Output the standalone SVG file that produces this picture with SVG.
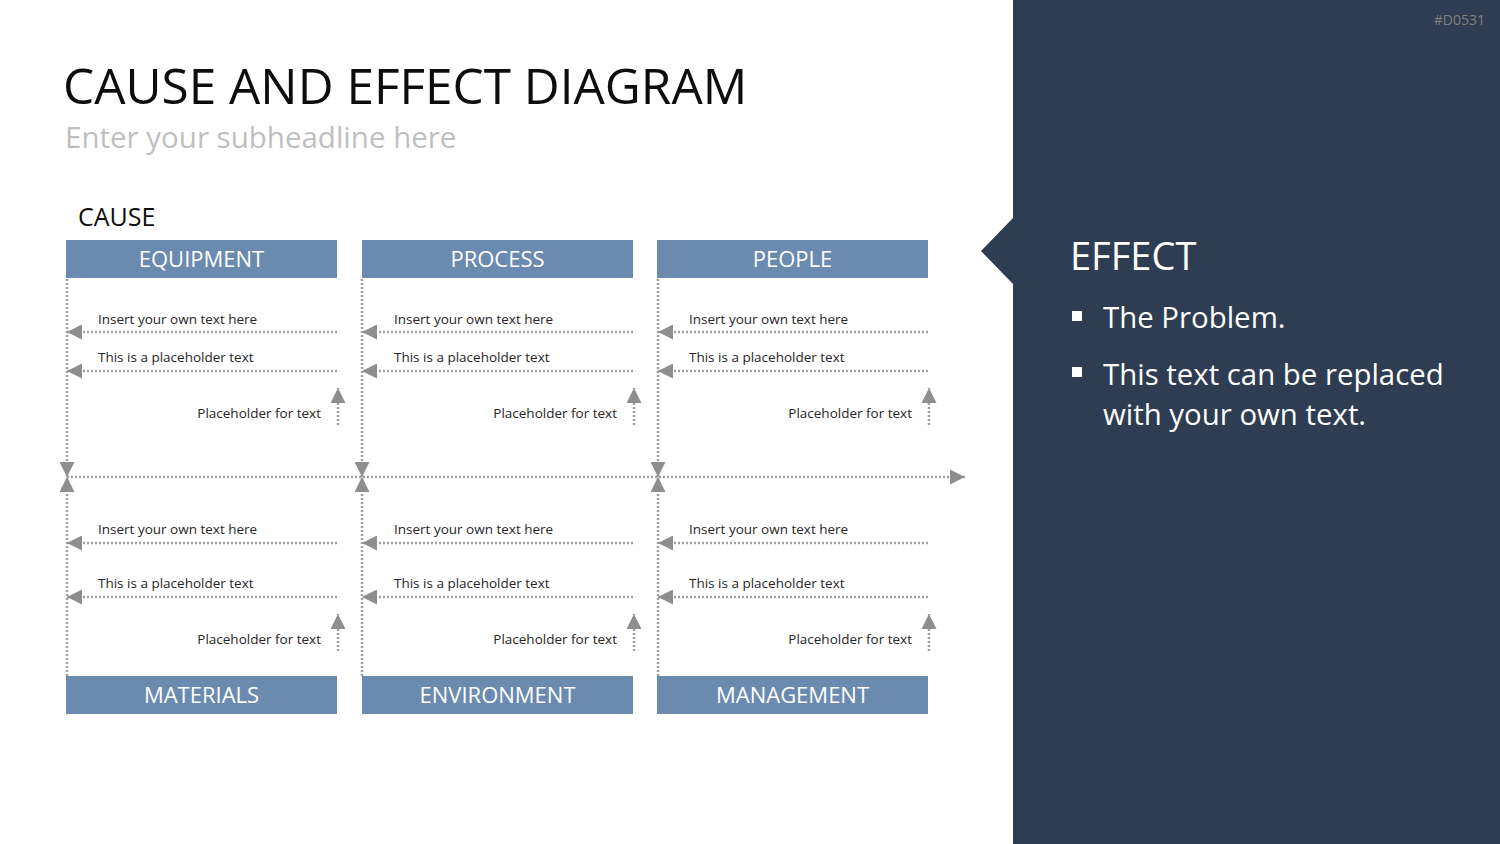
<svg xmlns="http://www.w3.org/2000/svg" width="1500" height="844" viewBox="0 0 1500 844">
<style>
.t{font-family:"Open Sans","Liberation Sans",sans-serif}
.title{font-size:49.5px;fill:#0D0D0D}
.sub{font-size:29.5px;fill:#BFBFBF}
.cause{font-size:25px;fill:#0D0D0D}
.hdr{font-size:22px;fill:#FFFFFF;text-anchor:middle}
.body{font-size:13.5px;fill:#262626}
.end{text-anchor:end}
.box{fill:#6A8BAF}
.dl{stroke:#A0A0A0;stroke-width:2.5;stroke-dasharray:2 2;fill:none}
.ar{marker-end:url(#tri)}
.eff{font-size:38px;fill:#FFFFFF}
.bul{font-size:29.4px;fill:#FFFFFF}
</style>
<defs>
<marker id="tri" viewBox="0 0 15 15" refX="15" refY="7.5" markerWidth="15" markerHeight="15" markerUnits="userSpaceOnUse" orient="auto">
<path d="M0,0 L15,7.5 L0,15 Z" fill="#8E8E8E"/>
</marker>
</defs>
<rect width="1500" height="844" fill="#FFFFFF"/>
<g id="effect-panel">
<path d="M1013,0 H1500 V844 H1013 V284 L981,251 L1013,218 Z" fill="#2E3D51"/>
<text class="t" x="1485" y="25" font-size="14" fill="#7F7F7F" text-anchor="end">#D0531</text>
<text class="t eff" x="1070" y="270">EFFECT</text>
<rect x="1072" y="311" width="10" height="10" fill="#FFFFFF"/>
<text class="t bul" x="1103" y="328">The Problem.</text>
<rect x="1072" y="367" width="10" height="10" fill="#FFFFFF"/>
<text class="t bul" x="1103" y="385">This text can be replaced</text>
<text class="t bul" x="1103" y="425">with your own text.</text>
</g>
<g id="titles">
<text class="t title" x="63" y="104">CAUSE AND EFFECT DIAGRAM</text>
<text class="t sub" x="65" y="148">Enter your subheadline here</text>
<text class="t cause" x="78" y="226">CAUSE</text>
</g>
<g id="connectors">
<line class="dl ar" x1="67" y1="279" x2="67" y2="477"/>
<line class="dl ar" x1="362" y1="279" x2="362" y2="477"/>
<line class="dl ar" x1="658" y1="279" x2="658" y2="477"/>
<line class="dl ar" x1="67" y1="676" x2="67" y2="477"/>
<line class="dl ar" x1="362" y1="676" x2="362" y2="477"/>
<line class="dl ar" x1="658" y1="676" x2="658" y2="477"/>
<line class="dl ar" x1="67" y1="477" x2="965" y2="477"/>
<line class="dl ar" x1="337" y1="332" x2="67" y2="332"/>
<line class="dl ar" x1="337" y1="371" x2="67" y2="371"/>
<line class="dl ar" x1="338" y1="425" x2="338" y2="388"/>
<line class="dl ar" x1="633" y1="332" x2="362" y2="332"/>
<line class="dl ar" x1="633" y1="371" x2="362" y2="371"/>
<line class="dl ar" x1="634" y1="425" x2="634" y2="388"/>
<line class="dl ar" x1="928" y1="332" x2="658" y2="332"/>
<line class="dl ar" x1="928" y1="371" x2="658" y2="371"/>
<line class="dl ar" x1="929" y1="425" x2="929" y2="388"/>
<line class="dl ar" x1="337" y1="543" x2="67" y2="543"/>
<line class="dl ar" x1="337" y1="597" x2="67" y2="597"/>
<line class="dl ar" x1="338" y1="651" x2="338" y2="614"/>
<line class="dl ar" x1="633" y1="543" x2="362" y2="543"/>
<line class="dl ar" x1="633" y1="597" x2="362" y2="597"/>
<line class="dl ar" x1="634" y1="651" x2="634" y2="614"/>
<line class="dl ar" x1="928" y1="543" x2="658" y2="543"/>
<line class="dl ar" x1="928" y1="597" x2="658" y2="597"/>
<line class="dl ar" x1="929" y1="651" x2="929" y2="614"/>
</g>
<g id="equipment">
<rect class="box" x="66" y="240" width="271" height="38"/>
<text class="t hdr" x="201.5" y="267">EQUIPMENT</text>
<text class="t body" x="98" y="324">Insert your own text here</text>
<text class="t body" x="98" y="362">This is a placeholder text</text>
<text class="t body end" x="321" y="418">Placeholder for text</text>
</g>
<g id="process">
<rect class="box" x="362" y="240" width="271" height="38"/>
<text class="t hdr" x="497.5" y="267">PROCESS</text>
<text class="t body" x="394" y="324">Insert your own text here</text>
<text class="t body" x="394" y="362">This is a placeholder text</text>
<text class="t body end" x="617" y="418">Placeholder for text</text>
</g>
<g id="people">
<rect class="box" x="657" y="240" width="271" height="38"/>
<text class="t hdr" x="792.5" y="267">PEOPLE</text>
<text class="t body" x="689" y="324">Insert your own text here</text>
<text class="t body" x="689" y="362">This is a placeholder text</text>
<text class="t body end" x="912" y="418">Placeholder for text</text>
</g>
<g id="materials">
<rect class="box" x="66" y="676" width="271" height="38"/>
<text class="t hdr" x="201.5" y="703">MATERIALS</text>
<text class="t body" x="98" y="534">Insert your own text here</text>
<text class="t body" x="98" y="588">This is a placeholder text</text>
<text class="t body end" x="321" y="644">Placeholder for text</text>
</g>
<g id="environment">
<rect class="box" x="362" y="676" width="271" height="38"/>
<text class="t hdr" x="497.5" y="703">ENVIRONMENT</text>
<text class="t body" x="394" y="534">Insert your own text here</text>
<text class="t body" x="394" y="588">This is a placeholder text</text>
<text class="t body end" x="617" y="644">Placeholder for text</text>
</g>
<g id="management">
<rect class="box" x="657" y="676" width="271" height="38"/>
<text class="t hdr" x="792.5" y="703">MANAGEMENT</text>
<text class="t body" x="689" y="534">Insert your own text here</text>
<text class="t body" x="689" y="588">This is a placeholder text</text>
<text class="t body end" x="912" y="644">Placeholder for text</text>
</g>
</svg>
